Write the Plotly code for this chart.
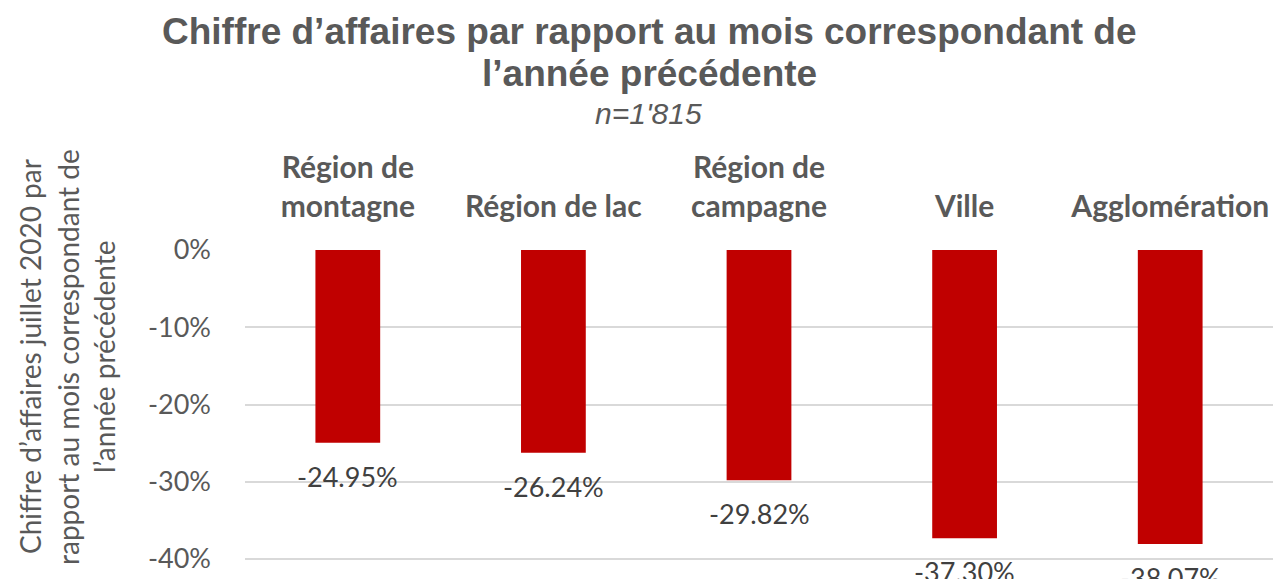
import plotly.graph_objects as go

categories = ["Région de<br>montagne", "Région de lac", "Région de<br>campagne", "Ville", "Agglomération"]
values = [-24.95, -26.24, -29.82, -37.30, -38.07]
labels = ["-24.95%", "-26.24%", "-29.82%", "-37.30%", "-38.07%"]
tick_vals = [0, -10, -20, -30, -40]
tick_text = ["0%", "-10%", "-20%", "-30%", "-40%"]
title_lines = ["Chiffre d’affaires par rapport au mois correspondant de", "l’année précédente"]
subtitle = "n=1'815"
ytitle_lines = ["Chiffre d’affaires juillet 2020 par", "rapport au mois correspondant de", "l’année précédente"]

BODY = "Lato, Carlito, Calibri, sans-serif"
TITLE_FONT = "Liberation Sans Narrow, Arial Narrow, Liberation Sans, Arial"
GRAY = "#595959"

FIG_W, FIG_H = 1273, 579
ML, MT = 245, 250
PW, PH = FIG_W - ML, FIG_H - MT


def paper(px, py):
    return (px - ML) / PW, (FIG_H - py) / PH


fig = go.Figure(go.Bar(
    x=categories, y=values,
    marker=dict(color="#C00000", line=dict(width=0)), width=0.315,
    hoverinfo="skip",
))

annotations = []
for c, v, t in zip(categories, values, labels):
    annotations.append(dict(x=c, y=v, xref="x", yref="y", text=t, showarrow=False,
                            yanchor="top", xanchor="center", yshift=-15,
                            font=dict(family=BODY, size=27, color="#404040")))

for line, py in zip(title_lines, [31, 73]):
    x, y = paper(649, py)
    annotations.append(dict(text="<b>" + line + "</b>", x=x, y=y, xref="paper", yref="paper",
                            xanchor="center", yanchor="middle", showarrow=False,
                            font=dict(family=TITLE_FONT, size=37, color=GRAY)))
x, y = paper(648, 113)
annotations.append(dict(text="<i>" + subtitle + "</i>", x=x, y=y, xref="paper", yref="paper",
                        xanchor="center", yanchor="middle", showarrow=False,
                        font=dict(family="Liberation Sans, Arial", size=30, color=GRAY)))
for line, px in zip(ytitle_lines, [30, 68, 104]):
    x, y = paper(px, 357)
    annotations.append(dict(text=line, textangle=-90, x=x, y=y, xref="paper", yref="paper",
                            xanchor="center", yanchor="middle", showarrow=False,
                            font=dict(family=BODY, size=28, color=GRAY)))

fig.update_layout(
    width=FIG_W, height=FIG_H,
    margin=dict(l=ML, r=0, t=MT, b=0, pad=0),
    paper_bgcolor="white", plot_bgcolor="white",
    showlegend=False,
    xaxis=dict(side="top", showgrid=False, showline=False, ticks="",
               tickfont=dict(family=BODY, size=30, color=GRAY, weight="bold"),
               ticklabelstandoff=26, fixedrange=True),
    yaxis=dict(range=[-(FIG_H - MT) / 7.725, 0], tickvals=tick_vals, ticktext=tick_text,
               showgrid=True, gridcolor="#D9D9D9", gridwidth=2, zeroline=False,
               tickfont=dict(family=BODY, size=27, color=GRAY),
               ticklabelstandoff=33, ticklabeloverflow="allow", fixedrange=True),
    annotations=annotations,
)

fig.write_html(
    "out.html",
    config={"displayModeBar": False},
    post_script="document.body.style.margin='0';document.body.style.overflow='hidden';",
)
